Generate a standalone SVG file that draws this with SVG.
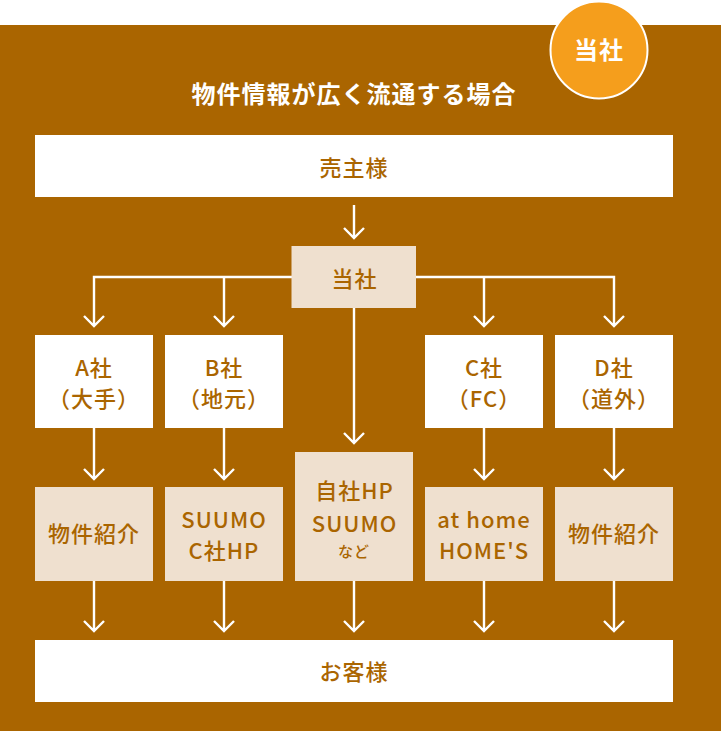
<svg xmlns="http://www.w3.org/2000/svg" width="721" height="731" viewBox="0 0 721 731">
<style>
.box{fill:#fff}
.tan{fill:#efe0cf}
text{font-family:"Noto Sans CJK JP","Noto Sans",sans-serif;font-size:22px;fill:#aa6500;text-anchor:middle;letter-spacing:1px;font-weight:500}
text.small{font-size:15px}
text.ser{font-family:"Liberation Serif","Noto Sans CJK JP",serif;fill:#fff;font-weight:700;letter-spacing:1px;font-size:24px}
#connectors path{fill:none;stroke:#fff;stroke-width:2.4}
</style>
<rect id="background" x="0" y="25" width="721" height="706" fill="#aa6500"/>
<g id="badge"><circle cx="599" cy="50" r="48.5" fill="#f59e1c" stroke="#fff" stroke-width="2"/><text class="ser" x="599" y="59">当社</text></g>
<g id="title"><text class="ser" x="354" y="103">物件情報が広く流通する場合</text></g>
<g id="connectors">
<path d="M354 205V237M344 228L354 238L364 228"/>
<path d="M292 277H94V326M84 316L94 326L104 316"/>
<path d="M224 277V326M214 316L224 326L234 316"/>
<path d="M416 277H614V326M604 316L614 326L624 316"/>
<path d="M484 277V326M474 316L484 326L494 316"/>
<path d="M354 308V443M344 433L354 443L364 433"/>
<path d="M94 428V479M84 469L94 479L104 469"/>
<path d="M224 428V479M214 469L224 479L234 469"/>
<path d="M484 428V479M474 469L484 479L494 469"/>
<path d="M614 428V479M604 469L614 479L624 469"/>
<path d="M94 581V631M84 621L94 631L104 621"/>
<path d="M224 581V631M214 621L224 631L234 621"/>
<path d="M354 581V631M344 621L354 631L364 621"/>
<path d="M484 581V631M474 621L484 631L494 621"/>
<path d="M614 581V631M604 621L614 631L624 621"/>
</g>
<g id="seller"><rect class="box" x="35" y="135" width="638" height="62"/><text x="354" y="176">売主様</text></g>
<g id="company"><rect class="tan" x="291.500" y="246" width="124.500" height="62"/><text x="354.500" y="287">当社</text></g>
<g id="a"><rect class="box" x="35" y="335" width="118" height="93"/><text x="94" y="376">A社</text><text x="94" y="407">（大手）</text></g>
<g id="b"><rect class="box" x="165" y="335" width="118" height="93"/><text x="224" y="376">B社</text><text x="224" y="407">（地元）</text></g>
<g id="c"><rect class="box" x="425" y="335" width="118" height="93"/><text x="484" y="376">C社</text><text x="484" y="407">（FC）</text></g>
<g id="d"><rect class="box" x="555" y="335" width="118" height="93"/><text x="614" y="376">D社</text><text x="614" y="407">（道外）</text></g>
<g id="a2"><rect class="tan" x="35" y="487" width="118" height="94"/><text x="94" y="542">物件紹介</text></g>
<g id="b2"><rect class="tan" x="165" y="487" width="118" height="94"/><text x="224" y="528">SUUMO</text><text x="224" y="559">C社HP</text></g>
<g id="own"><rect class="tan" x="295" y="452" width="118" height="129"/><text x="354.500" y="499">自社HP</text><text x="354.500" y="532">SUUMO</text><text class="small" x="354" y="557">など</text></g>
<g id="c2"><rect class="tan" x="425" y="487" width="118" height="94"/><text x="484" y="528">at home</text><text x="484" y="559">HOME'S</text></g>
<g id="d2"><rect class="tan" x="555" y="487" width="118" height="94"/><text x="614" y="542">物件紹介</text></g>
<g id="customer"><rect class="box" x="35" y="640" width="638" height="62"/><text x="354" y="680">お客様</text></g>
</svg>
